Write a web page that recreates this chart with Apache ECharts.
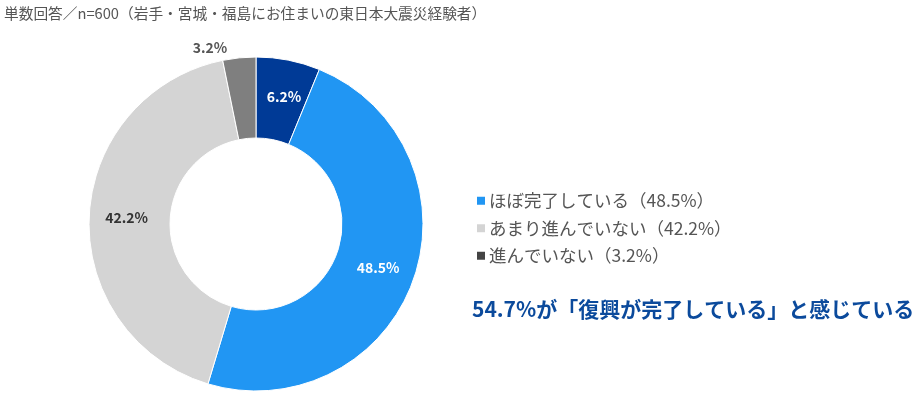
<!DOCTYPE html>
<html><head><meta charset="utf-8">
<script src="https://cdn.jsdelivr.net/npm/echarts@6/dist/echarts.min.js"></script>
<style>html,body{margin:0;padding:0;background:#fff}#c{width:921px;height:398px}</style>
</head><body><div id="c"></div>
<script>
const categories = ['完了している', 'ほぼ完了している', 'あまり進んでいない', '進んでいない'];
const values = [6.2, 48.5, 42.2, 3.2];
const legendNames = ['ほぼ完了している', 'あまり進んでいない', '進んでいない'];
const colors = ['#003a96', '#2196f3', '#d4d4d4', '#7f7f7f'];
const titleText = '単数回答／n=600（岩手・宮城・福島にお住まいの東日本大震災経験者）';
const noteText = '54.7%が「復興が完了している」と感じている';

const FONT = '"Noto Sans CJK JP", "Noto Sans", sans-serif';
const chart = echarts.init(document.getElementById('c'), null, {renderer: 'canvas'});
const data = categories.map((n, i) => {
  const d = {name: n, value: values[i], itemStyle: {color: colors[i]}};
  if (i === 0) d.label = {padding: [0, 0, 12, 6]};
  if (i === 2) d.label = {color: '#333', position: 'inside'};
  if (i === 3) d.label = {color: '#555', position: 'outside'};
  return d;
});
chart.setOption({
  animation: false,
  title: [
    {text: titleText, left: -1, top: 1, textStyle: {fontFamily: FONT, fontSize: 14.7, fontWeight: 'normal', color: '#555'}},
    {text: noteText, left: 467, top: 294, textStyle: {fontFamily: FONT, fontSize: 21, fontWeight: 'bold', color: '#0b4a9c'}}
  ],
  legend: {
    orient: 'vertical', left: 470, top: 187, itemGap: 10, itemWidth: 10, itemHeight: 10,
    icon: 'rect',
    data: legendNames.map((n, i) => ({name: n, itemStyle: i === 2 ? {color: '#444'} : undefined})),
    formatter: n => n + '（' + values[categories.indexOf(n)] + '%）',
    textStyle: {fontFamily: FONT, fontSize: 17.5, color: '#555', padding: [0, 0, 0, -2]}
  },
  series: [{
    type: 'pie', center: [256, 224], radius: [86, 167], startAngle: 90, clockwise: true,
    avoidLabelOverlap: false,
    itemStyle: {borderColor: '#fff', borderWidth: 1},
    label: {show: true, position: 'inside', formatter: p => p.value.toFixed(1) + '%',
      fontFamily: FONT, fontSize: 14, fontWeight: 'bold', color: '#fff'},
    labelLine: {show: false, length: 10, length2: 6},
    data: data
  }]
});
</script></body></html>
